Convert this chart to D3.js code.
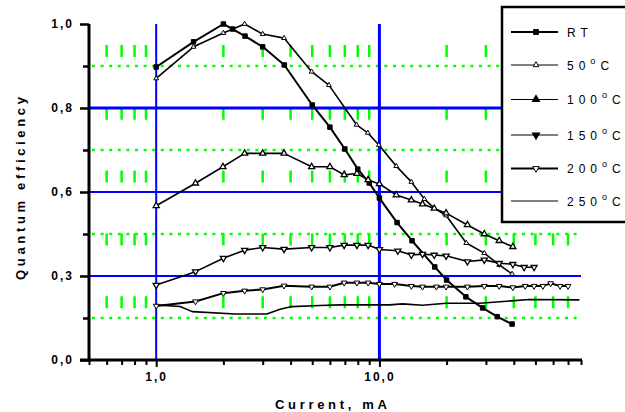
<!DOCTYPE html>
<html>
<head>
<meta charset="utf-8">
<script src="https://cdn.jsdelivr.net/npm/d3@7"></script>
<style>
  html, body { margin: 0; padding: 0; background: #fff; }
  svg { display: block; }
  text { font-family: "Liberation Sans", Arial, sans-serif; fill: #000; }
</style>
</head>
<body>
<div id="chart"></div>
<script>
// ---------- data (current in mA, quantum efficiency) ----------
const seriesNames = ["RT", "50", "100", "150", "200", "250"];

const rtData = [[1.0,0.872],[1.47,0.947],[2.0,1.0],[2.2,0.985],[2.5,0.964],[3.0,0.932],[3.75,0.878],
  [5,0.759],[6,0.693],[7,0.628],[8,0.568],[9,0.527],[10,0.482],[12,0.409],[14,0.355],[17.7,0.277],
  [20,0.238],[24.4,0.188],[29,0.155],[33.7,0.129],[39.3,0.107]];

const c50Data = [[1.0,0.838],[1.47,0.932],[2.0,0.973],[2.49,1.0],[3.0,0.97],[3.74,0.958],[4.97,0.858],
  [5.94,0.818],[7.9,0.70],[8.87,0.676],[9.94,0.64],[11.9,0.577],[13.9,0.53],[15.9,0.479],[17.6,0.452],
  [19.9,0.43],[24.5,0.348],[29.5,0.318],[34.4,0.283],[39.3,0.256]];

const c100Data = [[1.0,0.459],[1.5,0.526],[1.99,0.575],[2.49,0.615],[3.0,0.615],[3.74,0.615],[4.97,0.575],
  [6.0,0.575],[6.95,0.551],[7.93,0.555],[8.9,0.536],[10,0.524],[11.9,0.491],[13.9,0.476],[15.6,0.464],
  [17.6,0.451],[19.9,0.437],[24.8,0.402],[29.5,0.375],[34.4,0.355],[39.6,0.337]];

const c150Data = [[1.0,0.223],[1.5,0.263],[2.0,0.303],[2.49,0.327],[3.0,0.335],[3.74,0.330],[4.97,0.335],
  [6.0,0.335],[6.95,0.342],[7.93,0.342],[8.9,0.342],[10,0.329],[12.1,0.325],[13.9,0.3125],[15.6,0.315],
  [17.6,0.3125],[19.9,0.31],[24.8,0.293],[29.5,0.298],[34.4,0.288],[39.6,0.285],[44.5,0.276],[49.3,0.276]];

const c200Data = [[1.0,0.161],[1.5,0.174],[2.0,0.199],[2.49,0.206],[3.0,0.21],[3.74,0.221],[4.97,0.218],
  [6.0,0.218],[6.95,0.23],[7.93,0.23],[8.9,0.23],[10,0.226],[11.7,0.226],[13.9,0.22],[15.6,0.218],
  [18,0.218],[19.9,0.218],[24.8,0.218],[29.5,0.22],[34.4,0.22],[39.6,0.216],[45,0.22],[49.3,0.22],
  [54,0.22],[58.5,0.228],[64.5,0.22],[70,0.22]];

const c250Data = [[1.0,0.164],[1.28,0.159],[1.45,0.144],[2.26,0.137],[3.13,0.137],[3.59,0.151],[4.05,0.159],
  [5.42,0.162],[6.65,0.164],[11.1,0.164],[12.7,0.167],[15.6,0.163],[19.9,0.169],[28.1,0.169],
  [46.9,0.18],[78.7,0.179]];

const xMajorTicks = [1, 10];
const xMajorLabels = ["1,0", "10,0"];
const xMinorTicks = [0.5,0.6,0.7,0.8,0.9,2,3,4,5,6,7,8,9,20,30,40,50,60,70,80];
const xMinorGrid = [0.6,0.7,0.8,0.9,2,3,4,5,6,7,8,9,20,30,40,50,60,70];
const yMajorTicks = [0, 0.25, 0.5, 0.75, 1.0];
const yMajorLabels = ["0,0", "0,3", "0,6", "0,8", "1,0"];
const yMinorTicks = [0.125, 0.375, 0.625, 0.875];

// ---------- setup ----------
const W = 625, H = 412;
const svg = d3.select("#chart").append("svg").attr("width", W).attr("height", H);

const x = d3.scaleLog().domain([0.5, 80]).range([89, 581]);
const y = d3.scaleLinear().domain([0, 1]).range([360, 24]);

const GREEN = "#00ff00", BLUE = "#0000ff";

// ---------- grid ----------
const grid = svg.append("g");
grid.selectAll(".hmin").data(yMinorTicks).enter().append("line")
  .attr("x1", x(0.5) + 3).attr("x2", x(80)).attr("y1", d => y(d)).attr("y2", d => y(d))
  .attr("stroke", GREEN).attr("stroke-width", 2.5).attr("stroke-dasharray", "3,5.6");
grid.selectAll(".vmin").data(xMinorGrid).enter().append("line")
  .attr("x1", d => x(d)).attr("x2", d => x(d)).attr("y1", y(1)).attr("y2", y(0))
  .attr("stroke", GREEN).attr("stroke-width", 2.5)
  .attr("stroke-dasharray", "12,50.8").attr("stroke-dashoffset", 41.8);
grid.selectAll(".hmaj").data([0.25, 0.5, 0.75]).enter().append("line")
  .attr("x1", x(0.5)).attr("x2", x(80)).attr("y1", d => y(d)).attr("y2", d => y(d))
  .attr("stroke", BLUE).attr("stroke-width", d => d === 0.75 ? 3 : 2);
grid.selectAll(".vmaj").data(xMajorTicks).enter().append("line")
  .attr("x1", d => x(d)).attr("x2", d => x(d)).attr("y1", y(1)).attr("y2", y(0))
  .attr("stroke", BLUE).attr("stroke-width", d => d === 10 ? 3 : 2);

// ---------- axes ----------
const xAxisMinor = d3.axisBottom(x).tickValues(xMinorTicks).tickSize(5).tickFormat("");
const xAxisMajor = d3.axisBottom(x).tickValues(xMajorTicks).tickSize(7).tickPadding(5)
  .tickFormat((d, i) => xMajorLabels[i]);
const gxm = svg.append("g").attr("transform", `translate(0,${y(0)})`).call(xAxisMinor);
const gx = svg.append("g").attr("transform", `translate(0,${y(0)})`).call(xAxisMajor);
[gxm, gx].forEach(g => {
  g.select(".domain").remove();
  g.selectAll(".tick line").attr("stroke", "#000").attr("stroke-width", 2);
});
gx.selectAll(".tick text").attr("font-size", 12).attr("font-weight", "bold")
  .style("letter-spacing", "2px").attr("fill", "#000");

const yAxisMinor = d3.axisLeft(y).tickValues(yMinorTicks).tickSize(6).tickFormat("");
const yAxisMajor = d3.axisLeft(y).tickValues(yMajorTicks).tickSize(9).tickPadding(6)
  .tickFormat((d, i) => yMajorLabels[i]);
const gym = svg.append("g").attr("transform", `translate(${x(0.5)},0)`).call(yAxisMinor);
const gy = svg.append("g").attr("transform", `translate(${x(0.5)},0)`).call(yAxisMajor);
[gym, gy].forEach(g => {
  g.select(".domain").remove();
  g.selectAll(".tick line").attr("stroke", "#000").attr("stroke-width", 2.5);
});
gy.selectAll(".tick text").attr("font-size", 12).attr("font-weight", "bold")
  .style("letter-spacing", "2px").attr("fill", "#000");

svg.append("line").attr("x1", x(0.5)).attr("x2", x(0.5)).attr("y1", y(1)).attr("y2", y(0) + 1.5)
  .attr("stroke", "#000").attr("stroke-width", 3);
svg.append("line").attr("x1", x(0.5) - 9).attr("x2", x(80) + 1).attr("y1", y(0)).attr("y2", y(0))
  .attr("stroke", "#000").attr("stroke-width", 3);

svg.append("text").attr("x", 275).attr("y", 409).attr("font-size", 13).attr("font-weight", "bold")
  .attr("textLength", 112).attr("lengthAdjust", "spacing").text("Current, mA");
svg.append("text").attr("transform", "translate(25,280) rotate(-90)")
  .attr("font-size", 13).attr("font-weight", "bold")
  .attr("textLength", 183).attr("lengthAdjust", "spacing").text("Quantum efficiency");

// ---------- series ----------
const series = [
  { name: seriesNames[0], data: rtData,   width: 2,   sym: d3.symbolSquare,   size: 20, fill: "#000", sw: 1 },
  { name: seriesNames[1], data: c50Data,  width: 1.6, sym: d3.symbolTriangle, size: 10, fill: "#fff", sw: 1 },
  { name: seriesNames[2], data: c100Data, width: 1.6, sym: d3.symbolTriangle, size: 16, fill: "#fff", sw: 1.3 },
  { name: seriesNames[3], data: c150Data, width: 1.6, sym: d3.symbolTriangle, size: 16, fill: "#fff", sw: 1.3, rot: 180 },
  { name: seriesNames[4], data: c200Data, width: 2,   sym: d3.symbolTriangle, size: 14, fill: "#fff", sw: 1, rot: 180 },
  { name: seriesNames[5], data: c250Data, width: 1.6, sym: null }
];

const line = d3.line().x(d => x(d[0])).y(d => y(d[1]));
const plot = svg.append("g");
series.forEach(s => {
  plot.append("path").attr("d", line(s.data)).attr("fill", "none")
    .attr("stroke", "#000").attr("stroke-width", s.width).attr("stroke-linejoin", "round");
});
series.forEach(s => {
  if (!s.sym) return;
  const p = d3.symbol().type(s.sym).size(s.size)();
  plot.selectAll(null).data(s.data).enter().append("path")
    .attr("d", p)
    .attr("transform", d => `translate(${x(d[0])},${y(d[1])}) rotate(${s.rot || 0})`)
    .attr("fill", s.fill).attr("stroke", "#000").attr("stroke-width", s.sw);
});

// ---------- legend ----------
const lg = svg.append("g");
lg.append("rect").attr("x", 502).attr("y", 7).attr("width", 140).attr("height", 215)
  .attr("fill", "#fff").attr("stroke", "#000").attr("stroke-width", 2.5);
const legendY = [32, 65, 99.5, 135, 168.5, 201];
series.forEach((s, i) => {
  const ly = legendY[i];
  lg.append("line").attr("x1", 511).attr("x2", 558).attr("y1", ly).attr("y2", ly)
    .attr("stroke", "#000").attr("stroke-width", (i === 0 || i === 4) ? 2 : 1);
  if (s.sym) {
    lg.append("path").attr("d", d3.symbol().type(s.sym).size(s.size + 4)())
      .attr("transform", `translate(536,${ly}) rotate(${s.rot || 0})`)
      .attr("fill", (i === 2 || i === 3) ? "#000" : s.fill).attr("stroke", "#000").attr("stroke-width", s.sw);
  }
  const t = lg.append("text").attr("x", 567).attr("y", ly + 4.5).attr("font-size", 12)
    .style("letter-spacing", "5px");
  if (i === 0) {
    t.text("RT");
  } else {
    t.append("tspan").text(s.name);
    t.append("tspan").attr("dy", -6).attr("font-size", 9).text("o");
    t.append("tspan").attr("dy", 6).text("C");
  }
});
</script>
</body>
</html>
